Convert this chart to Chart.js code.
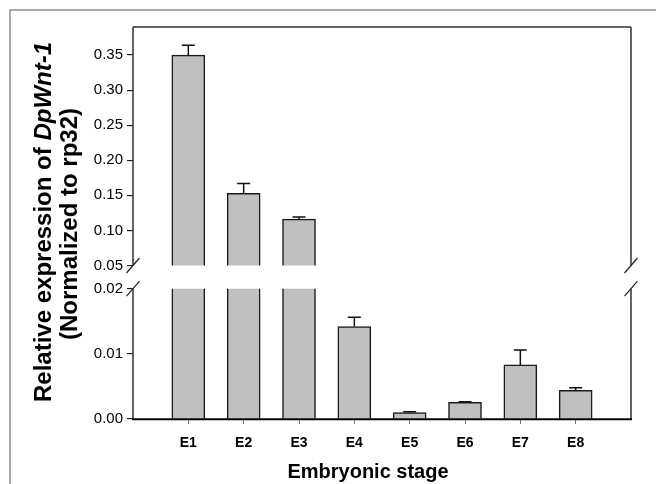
<!DOCTYPE html>
<html>
<head>
<meta charset="utf-8">
<script src="https://cdn.jsdelivr.net/npm/chart.js@4/dist/chart.umd.min.js"></script>
<style>
  html, body { margin: 0; padding: 0; background: #fff; }
  #wrap { width: 656px; height: 484px; }
</style>
</head>
<body>
<div id="wrap"><canvas id="c" width="656" height="484"></canvas></div>
<script>
// ---- data ----
const categories = ['E1', 'E2', 'E3', 'E4', 'E5', 'E6', 'E7', 'E8'];
const expression = [0.350, 0.153, 0.116, 0.0142, 0.00097, 0.00256, 0.0083, 0.0044];
const errorUp    = [0.014, 0.014, 0.003, 0.0014, 0.00015, 0.0001, 0.0023, 0.0004];
const yTickValues = [0.00, 0.01, 0.02, 0.05, 0.10, 0.15, 0.20, 0.25, 0.30, 0.35];
const axisBreak = [0.02, 0.05];      // lower segment top, upper segment bottom
const yMin = 0, yMax = 0.39;
const segmentWeights = [130.3, 23.2, 238.5]; // lower, gap, upper (relative heights)
const yTitleMain = 'Relative expression of ';
const yTitleGene = 'DpWnt-1';
const yTitleSub = '(Normalized to rp32)';
const xTitle = 'Embryonic stage';

// ---- broken linear scale ----
class BrokenLinearScale extends Chart.LinearScale {
  buildTicks() {
    return yTickValues.map(v => ({ value: v }));
  }
  _dec(v) {
    const [b0, b1] = axisBreak;
    const [w0, wg, w1] = segmentWeights;
    const tot = w0 + wg + w1;
    if (v <= b0) return ((v - yMin) / (b0 - yMin)) * w0 / tot;
    if (v <= b1) return (w0 + (v - b0) / (b1 - b0) * wg) / tot;
    return (w0 + wg + (v - b1) / (yMax - b1) * w1) / tot;
  }
  getPixelForValue(v) {
    return this.getPixelForDecimal(this._dec(v));
  }
  getValueForPixel(p) {
    const d = this.getDecimalForPixel(p);
    const [b0, b1] = axisBreak;
    const [w0, wg, w1] = segmentWeights;
    const tot = w0 + wg + w1;
    const a = w0 / tot, b = (w0 + wg) / tot;
    if (d <= a) return yMin + d / a * (b0 - yMin);
    if (d <= b) return b0 + (d - a) / (b - a) * (b1 - b0);
    return b1 + (d - b) / (1 - b) * (yMax - b1);
  }
}
BrokenLinearScale.id = 'brokenLinear';
BrokenLinearScale.defaults = Chart.LinearScale.defaults;
Chart.register(BrokenLinearScale);

const FONT = '"Liberation Sans", Arial, Helvetica, sans-serif';

const decorPlugin = {
  id: 'decor',
  afterDatasetsDraw(chart) {
    const ctx = chart.ctx;
    const ca = chart.chartArea;
    const y = chart.scales.y;
    const meta = chart.getDatasetMeta(0);
    ctx.save();
    // error bars (upper only)
    ctx.strokeStyle = '#111';
    ctx.lineWidth = 1.5;
    meta.data.forEach((bar, i) => {
      const x = bar.x;
      const yTop = y.getPixelForValue(expression[i] + errorUp[i]);
      const yVal = y.getPixelForValue(expression[i]);
      ctx.beginPath();
      ctx.moveTo(x, yVal);
      ctx.lineTo(x, yTop);
      ctx.moveTo(x - 6.5, yTop);
      ctx.lineTo(x + 6.5, yTop);
      ctx.stroke();
    });
    // gap of the broken axis
    const y02 = y.getPixelForValue(axisBreak[0]);
    const y05 = y.getPixelForValue(axisBreak[1]);
    ctx.fillStyle = '#fff';
    ctx.fillRect(ca.left + 1, y05, ca.right - ca.left - 2, y02 - y05);

    // frame lines
    ctx.strokeStyle = '#333';
    ctx.lineWidth = 1.5;
    ctx.beginPath();
    ctx.moveTo(ca.left, ca.top); ctx.lineTo(ca.right, ca.top);
    ctx.stroke();
    [ca.left, ca.right].forEach(xx => {
      ctx.beginPath();
      ctx.moveTo(xx, ca.top); ctx.lineTo(xx, y05);
      ctx.moveTo(xx, y02); ctx.lineTo(xx, ca.bottom);
      ctx.stroke();
    });
    // bottom axis
    ctx.strokeStyle = '#000';
    ctx.lineWidth = 2;
    ctx.beginPath();
    ctx.moveTo(ca.left - 1, ca.bottom + 0.3); ctx.lineTo(ca.right + 1, ca.bottom + 0.3);
    ctx.stroke();
    // break slashes
    ctx.strokeStyle = '#222';
    ctx.lineWidth = 1.2;
    [ca.left, ca.right].forEach(xx => {
      [y05, y02].forEach(yy => {
        ctx.beginPath();
        ctx.moveTo(xx - 6.5, yy + 7.5);
        ctx.lineTo(xx + 6.5, yy - 7.5);
        ctx.stroke();
      });
    });
    ctx.restore();
  },
  afterDraw(chart) {
    const ctx = chart.ctx;
    ctx.save();
    // outer gray frame
    ctx.strokeStyle = '#8f8f8f';
    ctx.lineWidth = 1.5;
    ctx.beginPath();
    ctx.moveTo(10, 484); ctx.lineTo(10, 10); ctx.lineTo(656, 10);
    ctx.stroke();

    // y title (two lines, rotated)
    ctx.fillStyle = '#000';
    ctx.textBaseline = 'middle';
    ctx.textAlign = 'left';
    const bold = 'bold 24px ' + FONT;
    const boldIt = 'italic bold 24px ' + FONT;
    ctx.save();
    ctx.translate(44, 222);
    ctx.rotate(-Math.PI / 2);
    ctx.font = bold;
    const w1 = ctx.measureText(yTitleMain).width;
    ctx.font = boldIt;
    const w2 = ctx.measureText(yTitleGene).width;
    const start = -(w1 + w2) / 2;
    ctx.font = bold;
    ctx.fillText(yTitleMain, start, 0);
    ctx.font = boldIt;
    ctx.fillText(yTitleGene, start + w1, 0);
    ctx.restore();
    ctx.save();
    ctx.translate(70, 224);
    ctx.rotate(-Math.PI / 2);
    ctx.font = bold;
    ctx.textAlign = 'center';
    ctx.fillText(yTitleSub, 0, 0);
    ctx.restore();

    // x title
    ctx.font = 'bold 20px ' + FONT;
    ctx.textAlign = 'center';
    ctx.textBaseline = 'middle';
    ctx.fillText(xTitle, 368, 472);
    ctx.restore();
  }
};

new Chart(document.getElementById('c'), {
  type: 'bar',
  data: {
    datasets: [{
      data: expression.map((v, i) => ({ x: i + 1, y: v })),
      backgroundColor: '#c0c0c0',
      borderColor: '#1a1a1a',
      borderWidth: 1.5,
      borderSkipped: 'start',
      barThickness: 33
    }]
  },
  options: {
    responsive: false,
    animation: false,
    devicePixelRatio: 1,
    layout: { padding: { top: 27, right: 25, left: 0, bottom: 0 } },
    plugins: { legend: { display: false }, tooltip: { enabled: false } },
    scales: {
      x: {
        type: 'linear',
        min: 0,
        max: 9,
        offset: false,
        afterFit: s => { s.height = 65; },
        afterBuildTicks: s => { s.ticks = categories.map((_, i) => ({ value: i + 1 })); },
        grid: { display: true, drawOnChartArea: false, offset: false, tickLength: 5, color: '#777', lineWidth: 1 },
        border: { display: false },
        ticks: {
          autoSkip: false,
          maxRotation: 0,
          padding: 11,
          color: '#000',
          font: { family: FONT, size: 14, weight: 'bold' },
          callback: v => categories[v - 1] ?? ''
        }
      },
      y: {
        type: 'brokenLinear',
        min: yMin,
        max: yMax,
        afterFit: s => { s.width = 133; },
        grid: { display: true, drawOnChartArea: false, tickLength: 6, color: '#222', lineWidth: 1.2 },
        border: { display: false },
        ticks: {
          autoSkip: false,
          padding: 4,
          color: '#000',
          font: { family: FONT, size: 15 },
          callback: v => Number(v).toFixed(2)
        }
      }
    }
  },
  plugins: [decorPlugin]
});
</script>
</body>
</html>
